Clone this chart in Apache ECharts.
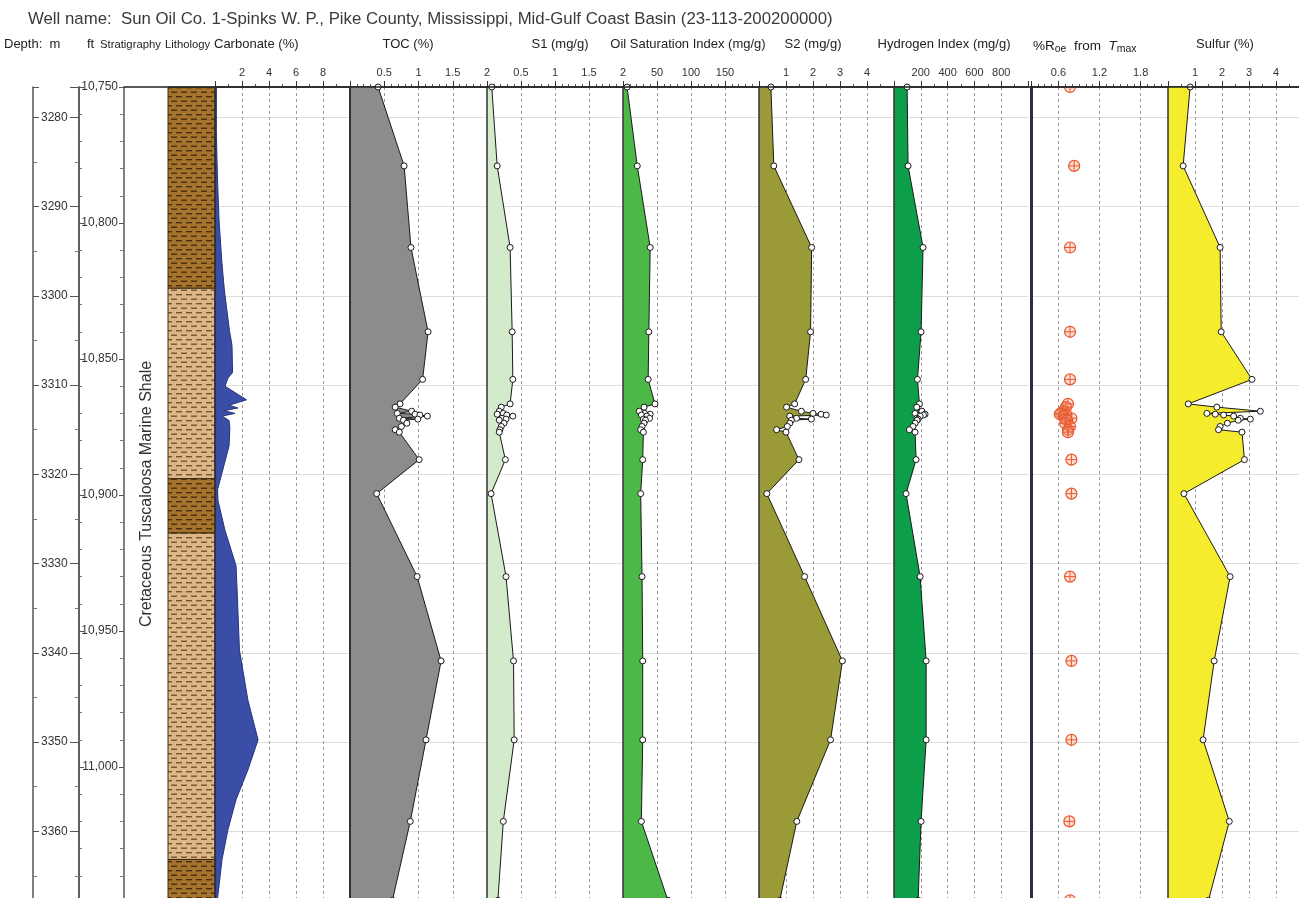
<!DOCTYPE html>
<html><head><meta charset="utf-8">
<script src="https://cdn.jsdelivr.net/npm/echarts@6/dist/echarts.min.js"></script>
<style>html,body{margin:0;padding:0;background:#fff}#c{width:1299px;height:898px}</style>
</head><body><div id="c"></div>
<script>
// ---------------- DATA ----------------
const titleText = 'Well name:  Sun Oil Co. 1-Spinks W. P., Pike County, Mississippi, Mid-Gulf Coast Basin (23-113-200200000)';
const stratText = 'Cretaceous Tuscaloosa Marine Shale';

// sample depths (ft) shared by the geochemistry tracks
const sampleDepthFt = [10750, 10779, 10809, 10840, 10857.5,
  10866.5, 10867.7, 10869.2, 10870.0, 10870.3, 10870.6, 10871.0, 10871.8, 10872.1, 10872.5, 10873.6, 10874.8, 10876.0, 10876.9,
  10887, 10899.5, 10930, 10961, 10990, 11020, 11049];
const tocPct = [0.41, 0.79, 0.89, 1.14, 1.06,
  0.73, 0.66, 0.90, 0.69, 0.95, 1.02, 1.13, 0.72, 0.99, 0.78, 0.83, 0.75, 0.66, 0.72,
  1.01, 0.39, 0.98, 1.33, 1.11, 0.88, 0.62];
const s1 = [0.07, 0.15, 0.34, 0.37, 0.38,
  0.34, 0.21, 0.18, 0.24, 0.15, 0.29, 0.38, 0.22, 0.28, 0.18, 0.25, 0.21, 0.19, 0.18,
  0.27, 0.06, 0.28, 0.39, 0.40, 0.24, 0.16];
const osi = [6, 21, 40, 38, 37,
  47, 31, 24, 32, 40, 27, 35, 39, 30, 33, 31, 28, 26, 30,
  29, 26, 28, 29, 29, 27, 66];
const s2 = [0.44, 0.55, 1.95, 1.91, 1.73,
  1.32, 1.02, 1.57, 2.0, 2.3, 2.49, 1.14, 1.39, 1.94, 1.2, 1.14, 1.05, 0.65, 1.0,
  1.48, 0.29, 1.69, 3.09, 2.65, 1.40, 0.77];
const hi = [98, 105, 217, 202, 175,
  190, 170, 208, 157, 232, 220, 195, 170, 180, 172, 158, 142, 115, 157,
  165, 90, 195, 240, 240, 202, 180];
const roTmax = [0.77, 0.83, 0.77, 0.77, 0.77,
  0.74, 0.71, 0.67, 0.64, 0.62, 0.72, 0.68, 0.79, 0.70, 0.73, 0.70, 0.77, 0.74, 0.74,
  0.79, 0.79, 0.77, 0.79, 0.79, 0.76, 0.77];
const sulfur = [0.82, 0.56, 1.93, 1.97, 3.11,
  0.75, 1.81, 3.42, 1.44, 1.75, 2.06, 2.43, 2.68, 3.05, 2.6, 2.2, 1.93, 1.87, 2.74,
  2.83, 0.59, 2.30, 1.71, 1.30, 2.27, 1.5];

// carbonate log (continuous)
const carbDepthFt = [10750, 10766, 10777, 10786, 10799, 10814, 10825, 10839.5, 10845, 10855, 10857, 10860, 10865, 10867, 10868, 10869, 10870, 10871, 10872.6, 10875.5, 10882, 10889, 10898, 10902, 10913, 10926, 10939, 10957, 10975.5, 10990, 11001, 11012, 11023, 11034, 11050];
const carbPct = [0.1, 0.1, 0.15, 0.2, 0.3, 0.5, 0.7, 1.07, 1.26, 1.3, 0.96, 0.74, 2.33, 1.04, 1.7, 0.67, 1.48, 0.52, 1.04, 1.1, 1.04, 0.67, 0.19, 0.22, 0.74, 1.56, 1.67, 1.81, 2.44, 3.19, 2.44, 1.56, 0.96, 0.52, 0.15];

// lithology units
const lithTopFt = [10750, 10824, 10894, 10914, 11034];
const lithBaseFt = [10824, 10894, 10914, 11034, 11050];
const lithType = ['dark', 'light', 'dark', 'light', 'dark'];

// tick labels
const mTickLabels = [3280, 3290, 3300, 3310, 3320, 3330, 3340, 3350, 3360];
const ftTickLabels = [10750, 10800, 10850, 10900, 10950, 11000];
const carbTicks = [2, 4, 6, 8];
const tocTicks = [0.5, 1, 1.5, 2];
const s1Ticks = [0.5, 1, 1.5, 2];
const osiTicks = [50, 100, 150];
const s2Ticks = [1, 2, 3, 4];
const hiTicks = [200, 400, 600, 800];
const roTicks = [0.6, 1.2, 1.8];
const sulfurTicks = [1, 2, 3, 4];

// ---------------- LAYOUT / STYLE ----------------
const FONT = 'Liberation Sans, Arial, Helvetica, sans-serif';
const FT_MIN = 10750, FT_MAX = 11050, M_PER_FT = 0.3048;
const M_MIN = FT_MIN * M_PER_FT, M_MAX = FT_MAX * M_PER_FT;
const TOP = 87, PLOT_H = 816;

function mkPattern(base, dash) {
  const c = document.createElement('canvas');
  c.width = 10; c.height = 9;
  const g = c.getContext('2d');
  g.fillStyle = base; g.fillRect(0, 0, 10, 9);
  g.fillStyle = dash;
  g.fillRect(1, 1.5, 6, 1.4);
  g.fillRect(6, 6, 4, 1.4);
  g.fillRect(0, 6, 2, 1.4);
  return {image: c, repeat: 'repeat'};
}
const patterns = {
  dark: mkPattern('#a5732c', '#4a2f0e'),
  light: mkPattern('#dcb687', '#76542e')
};

const grids = [], xAxes = [], yAxes = [], series = [];
function addGrid(left, width) {
  grids.push({left: left, width: width, top: TOP, height: PLOT_H, containLabel: false, outerBoundsMode: 'none'});
  return grids.length - 1;
}
const fmtNum = v => String(+(+v).toFixed(2));
const inList = (list, v) => list.some(l => Math.abs(l - v) < 1e-6);

// depth m grid
const gM = addGrid(33, 46);
xAxes.push({gridIndex: gM, type: 'value', show: false, min: 0, max: 1});
yAxes.push({gridIndex: gM, type: 'value', inverse: true, min: M_MIN, max: M_MAX, minInterval: 10, maxInterval: 10, position: 'left',
  axisLine: {show: true, lineStyle: {color: '#555', width: 1.5}},
  axisTick: {show: true, inside: true, length: 6, lineStyle: {color: '#555'}},
  minorTick: {show: true, splitNumber: 2, length: 4, lineStyle: {color: '#777'}},
  axisLabel: {show: true, inside: true, margin: 8, fontSize: 12, color: '#333', fontFamily: FONT,
    formatter: v => inList(mTickLabels, v) ? String(Math.round(v)) : ''},
  splitLine: {show: false}});
yAxes.push({gridIndex: gM, type: 'value', inverse: true, min: M_MIN, max: M_MAX, minInterval: 10, maxInterval: 10, position: 'right',
  axisLine: {show: true, lineStyle: {color: '#555', width: 1.5}},
  axisTick: {show: true, inside: true, length: 9, lineStyle: {color: '#555'}},
  minorTick: {show: true, splitNumber: 2, length: 4, lineStyle: {color: '#777'}},
  axisLabel: {show: false}, splitLine: {show: false}});

// depth ft grid
const gF = addGrid(79, 45);
xAxes.push({gridIndex: gF, type: 'value', show: false, min: 0, max: 1});
yAxes.push({gridIndex: gF, type: 'value', inverse: true, min: FT_MIN, max: FT_MAX, interval: 50, position: 'left',
  axisLine: {show: true, lineStyle: {color: '#555', width: 1.5}},
  axisTick: {show: true, inside: true, length: 5, lineStyle: {color: '#555'}},
  minorTick: {show: true, splitNumber: 5, length: 3, lineStyle: {color: '#777'}},
  axisLabel: {show: false}, splitLine: {show: false}});
yAxes.push({gridIndex: gF, type: 'value', inverse: true, min: FT_MIN, max: FT_MAX, interval: 50, position: 'right',
  axisLine: {show: true, lineStyle: {color: '#555', width: 1.5}},
  axisTick: {show: true, inside: true, length: 5, lineStyle: {color: '#555'}},
  minorTick: {show: true, splitNumber: 5, length: 4, lineStyle: {color: '#777'}},
  axisLabel: {show: true, inside: true, margin: 6, fontSize: 12, color: '#333', fontFamily: FONT,
    formatter: v => inList(ftTickLabels, v) ? String(Math.round(v)).replace(/\B(?=(\d{3})+(?!\d))/g, ',') : ''},
  splitLine: {show: false}});

// lithology grid
const gL = addGrid(168, 47);
xAxes.push({gridIndex: gL, type: 'value', show: false, min: 0, max: 1});
const lithX = xAxes.length - 1;
yAxes.push({gridIndex: gL, type: 'value', show: false, inverse: true, min: FT_MIN, max: FT_MAX});
const lithY = yAxes.length - 1;
series.push({type: 'custom', xAxisIndex: lithX, yAxisIndex: lithY, silent: true, animation: false, z: 2,
  data: lithTopFt.map((t, i) => [0, t, lithBaseFt[i]]),
  renderItem: (params, api) => {
    const i = params.dataIndex;
    const p1 = api.coord([0, lithTopFt[i]]);
    const p2 = api.coord([1, lithBaseFt[i]]);
    return {type: 'rect', shape: {x: p1[0], y: p1[1], width: p2[0] - p1[0], height: p2[1] - p1[1]},
      style: {fill: patterns[lithType[i]], stroke: '#3d2a10', lineWidth: 1}};
  }});

// data tracks
function addTrack(left, width, min, max, step, minorSplit, labels, borderW, borderColor) {
  const g = addGrid(left, width);
  xAxes.push({gridIndex: g, type: 'value', position: 'top', min: min, max: max, minInterval: step, maxInterval: step,
    axisLine: {show: true, onZero: false, lineStyle: {color: '#222', width: 1.5}},
    axisTick: {show: true, inside: false, length: 6, lineStyle: {color: '#333'}},
    minorTick: {show: true, splitNumber: minorSplit, length: 3, lineStyle: {color: '#555'}},
    axisLabel: {show: true, margin: 9, fontSize: 11, color: '#333', fontFamily: FONT,
      formatter: v => inList(labels, v) ? fmtNum(v) : ''},
    splitLine: {show: true, showMinLine: false, showMaxLine: false, lineStyle: {color: '#9a9a9a', type: [3, 3], width: 1}}});
  const xi = xAxes.length - 1;
  yAxes.push({gridIndex: g, type: 'value', inverse: true, min: FT_MIN, max: FT_MAX, position: 'left', z: 5,
    axisLine: {show: true, onZero: false, lineStyle: {color: borderColor || '#333', width: borderW || 1.5}},
    axisTick: {show: false}, axisLabel: {show: false}, splitLine: {show: false}});
  const yi = yAxes.length - 1;
  yAxes.push({gridIndex: g, type: 'value', inverse: true, min: M_MIN, max: M_MAX, minInterval: 10, maxInterval: 10, position: 'right',
    axisLine: {show: false}, axisTick: {show: false}, axisLabel: {show: false},
    splitLine: {show: true, showMinLine: false, showMaxLine: false, lineStyle: {color: '#dedede', width: 1}}});
  return {xi: xi, yi: yi};
}
function fillSeries(ax, depths, vals, color, stroke) {
  return {type: 'custom', xAxisIndex: ax.xi, yAxisIndex: ax.yi, silent: true, animation: false, z: 2,
    data: vals.map((v, i) => [v, depths[i]]),
    renderItem: (params, api) => {
      if (params.dataIndex !== 0) return null;
      const pts = [api.coord([0, depths[0]])];
      for (let i = 0; i < vals.length; i++) pts.push(api.coord([vals[i], depths[i]]));
      pts.push(api.coord([0, depths[depths.length - 1]]));
      return {type: 'polygon', shape: {points: pts}, style: {fill: color, stroke: stroke || null, lineWidth: 1}};
    }};
}
function curveSeries(ax, depths, vals) {
  return {type: 'line', xAxisIndex: ax.xi, yAxisIndex: ax.yi, silent: true, animation: false, z: 4,
    data: vals.map((v, i) => [v, depths[i]]),
    symbol: 'circle', symbolSize: 6, showSymbol: true, showAllSymbol: true,
    lineStyle: {color: '#1a1a1a', width: 1},
    itemStyle: {color: '#ffffff', borderColor: '#1a1a1a', borderWidth: 1},
    emphasis: {disabled: true}};
}

const tCarb = addTrack(215, 135, 0, 10, 2, 2, carbTicks, 1.2, '#333');
series.push(fillSeries(tCarb, carbDepthFt, carbPct, '#3a4ea8', '#26337a'));

const tToc = addTrack(350, 137, 0, 2, 0.5, 5, tocTicks, 2, '#333');
series.push(fillSeries(tToc, sampleDepthFt, tocPct, '#8c8c8c'));
series.push(curveSeries(tToc, sampleDepthFt, tocPct));

const tS1 = addTrack(487, 136, 0, 2, 0.5, 5, s1Ticks, 1.5, '#333');
series.push(fillSeries(tS1, sampleDepthFt, s1, '#d3eacb'));
series.push(curveSeries(tS1, sampleDepthFt, s1));

const tOsi = addTrack(623, 136, 0, 200, 50, 5, osiTicks, 1.5, '#333');
series.push(fillSeries(tOsi, sampleDepthFt, osi, '#4cb847'));
series.push(curveSeries(tOsi, sampleDepthFt, osi));

const tS2 = addTrack(759, 135, 0, 5, 1, 2, s2Ticks, 1.5, '#333');
series.push(fillSeries(tS2, sampleDepthFt, s2, '#9a9a36'));
series.push(curveSeries(tS2, sampleDepthFt, s2));

const tHi = addTrack(894, 134, 0, 1000, 200, 2, hiTicks, 1.5, '#333');
series.push(fillSeries(tHi, sampleDepthFt, hi, '#0d9e4a'));
series.push(curveSeries(tHi, sampleDepthFt, hi));

const tRo = addTrack(1031, 137, 0.2, 2.2, 0.6, 6, roTicks, 3, '#2c2f3f');
series.push({type: 'custom', xAxisIndex: tRo.xi, yAxisIndex: tRo.yi, silent: true, animation: false, z: 4, clip: true,
  data: roTmax.map((v, i) => [v, sampleDepthFt[i]]),
  renderItem: (params, api) => {
    const p = api.coord([api.value(0), api.value(1)]);
    const r = 5.5;
    const c = '#e8582e';
    return {type: 'group', children: [
      {type: 'circle', shape: {cx: p[0], cy: p[1], r: r}, style: {fill: 'rgba(246,160,130,0.35)', stroke: c, lineWidth: 1.2}},
      {type: 'line', shape: {x1: p[0] - r, y1: p[1], x2: p[0] + r, y2: p[1]}, style: {stroke: c, lineWidth: 1}},
      {type: 'line', shape: {x1: p[0], y1: p[1] - r, x2: p[0], y2: p[1] + r}, style: {stroke: c, lineWidth: 1}}
    ]};
  }});

const tS = addTrack(1168, 135, 0, 5, 1, 2, sulfurTicks, 1.5, '#333');
series.push(fillSeries(tS, sampleDepthFt, sulfur, '#f6ec2e'));
series.push(curveSeries(tS, sampleDepthFt, sulfur));

// ---------------- TEXT ----------------
function txt(x, y, s, size, align, color) {
  return {type: 'text', x: x, y: y, z: 50, silent: true,
    style: {text: s, font: size + 'px ' + FONT, fill: color || '#222', align: align || 'left', textAlign: align || 'left',
      verticalAlign: 'middle', textVerticalAlign: 'middle'}};
}
const HY = 44;
const graphics = [
  txt(28, 19, titleText, 16.8, 'left', '#3a3a3a'),
  txt(4, HY, 'Depth:  m', 13),
  txt(87, HY, 'ft', 13),
  txt(100, HY + 1, 'Stratigraphy', 11.3),
  txt(165, HY + 1, 'Lithology', 11.3),
  txt(214, HY, 'Carbonate (%)', 13),
  txt(408, HY, 'TOC (%)', 13, 'center'),
  txt(560, HY, 'S1 (mg/g)', 13, 'center'),
  txt(688, HY, 'Oil Saturation Index (mg/g)', 13, 'center'),
  txt(813, HY, 'S2 (mg/g)', 13, 'center'),
  txt(944, HY, 'Hydrogen Index (mg/g)', 13, 'center'),
  {type: 'text', x: 1033, y: HY + 2, z: 50, silent: true,
    style: {text: '{a|%R}{s|oe}{a|  from  }{i|T}{s|max}', align: 'left', verticalAlign: 'middle', fill: '#222',
      rich: {
        a: {font: '13.5px ' + FONT, fill: '#222', lineHeight: 18, verticalAlign: 'middle'},
        i: {font: 'italic 13.5px ' + FONT, fill: '#222', lineHeight: 18, verticalAlign: 'middle'},
        s: {font: '10.5px ' + FONT, fill: '#222', lineHeight: 10, verticalAlign: 'bottom'}
      }}},
  txt(1225, HY, 'Sulfur (%)', 13, 'center'),
  {type: 'text', x: 147, y: 494, rotation: Math.PI / 2, z: 50, silent: true,
    style: {text: stratText, font: '16px ' + FONT, fill: '#333', align: 'center', verticalAlign: 'middle'}},
  {type: 'line', z: 60, silent: true, shape: {x1: 124, y1: 87, x2: 1299, y2: 87}, style: {stroke: '#222', lineWidth: 1.5}},
  {type: 'line', z: 60, silent: true, shape: {x1: 215, y1: 87, x2: 215, y2: 898}, style: {stroke: '#333', lineWidth: 1.2}}
];

const chart = echarts.init(document.getElementById('c'), null, {renderer: 'canvas'});
chart.setOption({
  backgroundColor: '#ffffff',
  animation: false,
  textStyle: {fontFamily: FONT},
  grid: grids,
  xAxis: xAxes,
  yAxis: yAxes,
  series: series,
  graphic: graphics
});
</script>
</body></html>
